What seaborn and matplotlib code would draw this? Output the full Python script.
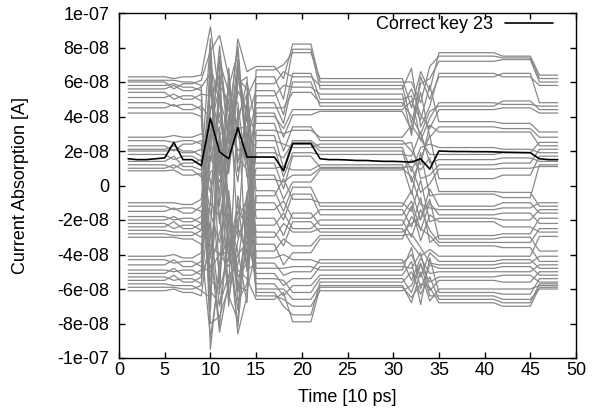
import numpy as np
import pandas as pd
import matplotlib
matplotlib.use("Agg")
import matplotlib.pyplot as plt
import seaborn as sns

# ---------------- data (values in units of 1e-8 A) ----------------
SCALE = 1e-8
time_steps = list(range(1, 49))

# correct key trace (black)
key23 = [1.55, 1.5, 1.5, 1.55, 1.6, 2.5, 1.5, 1.5, 1.15, 3.9,
         1.95, 1.55, 3.35, 1.65, 1.65, 1.65, 1.65, 0.85, 2.42, 2.42,
         2.42, 1.55, 1.5, 1.5, 1.48, 1.45, 1.45, 1.42, 1.4, 1.4,
         1.38, 1.35, 1.55, 0.95, 2.0, 1.98, 1.97, 1.97, 1.96, 1.96,
         1.95, 1.93, 1.92, 1.91, 1.9, 1.55, 1.5, 1.5]

# wrong-key traces (grey): one value per trace for each group of time steps
s_t01_05 = [6.3, 6.1, 6.0, 5.8, 5.6, 5.4, 5.1, 4.8, 4.5, 4.2,
            2.8, 2.6, 2.3, 2.1, 2.0, 1.8, 1.4, 1.2, 1.0, 0.85,
            -1.0, -1.2, -1.5, -1.8, -2.0, -2.2, -2.4, -2.6, -2.8, -3.0,
            -4.1, -4.3, -4.6, -4.9, -5.1, -5.3, -5.5, -5.7, -5.9, -6.1]
s_t06 = [6.2, 6.1, 5.6, 5.9, 5.8, 5.0, 5.3, 4.6, 4.7, 4.2,
         2.9, 2.5, 2.0, 2.3, 2.1, 1.5, 1.7, 1.0, 1.2, 0.9,
         -1.0, -1.4, -1.3, -2.0, -1.8, -2.5, -2.1, -2.7, -2.9, -3.0,
         -4.0, -4.5, -4.3, -5.0, -4.8, -5.5, -5.2, -5.8, -5.9, -6.0]
s_t07_08 = [6.3, 6.0, 5.9, 5.7, 5.5, 5.2, 5.0, 4.7, 4.4, 4.2,
            2.8, 2.6, 2.4, 2.0, 1.9, 1.7, 1.1, 1.3, 0.9, 0.6,
            -1.1, -1.3, -1.6, -1.9, -2.1, -2.3, -2.5, -2.7, -2.9, -3.1,
            -4.2, -4.4, -4.7, -4.9, -5.2, -5.4, -5.6, -5.8, -6.0, -6.2]
s_t09 = [6.4, 5.8, 6.1, 5.5, 5.7, 4.9, 5.3, 4.4, 4.6, 4.0,
         3.0, 2.4, 2.6, 1.7, 2.1, 1.4, 0.9, 1.5, 0.5, 0.7,
         -0.8, -1.5, -1.2, -2.2, -1.8, -2.6, -2.2, -3.0, -2.6, -3.4,
         -3.9, -4.7, -4.4, -5.2, -4.9, -5.7, -5.3, -6.1, -5.8, -6.4]
s_t10 = [9.2, -9.5, 7.8, -8.0, 6.5, -6.8, 5.2, -5.5, 3.9, -4.2,
         2.6, -2.9, 1.4, -1.6, 0.3, -0.4, 8.5, -7.3, 6.0, -6.1,
         4.6, -4.8, 3.2, -3.5, 2.0, -2.2, 0.8, -1.0, 7.0, -8.8,
         5.6, -5.0, 4.3, -3.8, 1.7, -0.9, 8.0, -6.5, 3.0, -2.5]
s_t11 = [5.0, -4.5, 8.7, -7.6, -2.0, 3.1, 6.4, -6.0, -0.5, 1.8,
         7.5, -8.2, 4.2, -3.3, -5.4, 2.5, -1.2, 6.9, 0.6, -6.9,
         3.7, -2.7, 5.8, -4.0, 8.1, -7.0, 1.1, -1.8, 4.8, -5.1,
         2.9, -3.9, 7.2, -8.5, 0.2, 6.1, -6.3, 3.4, -2.2, 5.3]
s_t12 = [3.2, -2.8, 6.3, -5.9, 1.5, -1.2, 4.4, -4.1, 5.7, -6.4,
         2.4, -2.0, 0.7, -0.3, 6.8, -7.0, 3.8, -3.5, 5.0, -5.2,
         1.9, -1.6, 4.9, -4.7, 2.7, -3.1, 6.0, -6.6, 0.9, -0.8,
         3.5, -3.9, 5.4, -5.6, 2.1, -2.3, 4.1, -4.4, 1.2, -1.0]
s_t13 = [8.5, -8.6, -3.0, 4.5, 6.9, -6.2, 2.0, -1.5, 7.7, -7.8,
         3.6, -3.8, 5.5, -5.3, 0.8, -0.6, 8.1, -7.2, 4.8, -4.6,
         6.2, -6.7, 1.3, -2.4, 7.3, -8.2, 2.9, -3.2, 5.9, -5.8,
         0.2, -1.0, 3.3, -4.0, 6.6, -6.0, 1.7, -2.0, 4.0, -4.9]
s_t14 = [6.6, -6.4, 5.1, -5.0, 3.8, -3.6, 2.5, -2.3, 1.2, -1.0,
         6.0, -6.8, 4.4, -4.5, 3.0, -2.9, 1.8, -1.6, 0.5, -0.4,
         5.6, -5.7, 4.0, -4.0, 2.7, -2.6, 1.4, -1.3, 6.3, -6.1,
         4.8, -4.9, 3.4, -3.3, 2.2, -2.1, 0.9, -0.8, 5.3, -5.4]
s_t15_17 = [6.9, 6.7, 6.3, 5.9, 5.5, 5.2, 4.8, 4.5, 4.2, 4.0,
            3.6, 3.2, 2.9, 2.6, 2.2, 1.9, 1.3, 1.0, 0.6, 0.35,
            -0.3, -0.6, -1.0, -1.4, -1.9, -2.3, -2.7, -3.0, -3.4, -3.8,
            -4.2, -4.5, -4.8, -5.1, -5.4, -5.7, -6.0, -6.2, -6.4, -6.6]
s_t18 = [6.2, 7.0, 5.0, 6.6, 4.1, 5.8, 3.6, 4.5, 2.8, 3.3,
         2.0, 3.0, 1.0, 2.4, 0.5, 1.6, -0.2, 1.1, -0.8, 0.2,
         -1.5, 0.4, -2.0, -0.9, -2.9, -1.6, -3.5, -2.2, -4.6, -3.1,
         -4.0, -5.2, -4.8, -5.8, -5.5, -6.4, -6.0, -7.0, -6.6, -6.2]
s_t19_21 = [8.2, 7.7, 7.9, 6.3, 6.5, 5.7, 6.0, 5.4, 4.1, 4.4,
            3.4, 3.2, 2.6, 2.2, 1.9, 2.5, 1.7, 0.9, 0.2, 0.6,
            -0.1, -0.8, -0.5, -1.9, -1.6, -2.5, -2.1, -2.7, -3.9, -3.5,
            -4.3, -5.0, -4.7, -5.4, -6.2, -5.8, -6.6, -7.5, -7.0, -7.9]
s_t22_31 = [6.0, 6.2, 5.6, 5.8, 5.0, 5.3, 4.6, 4.8, 4.3, 4.4,
            2.6, 2.8, 2.2, 2.4, 1.8, 2.0, 1.05, 1.2, 0.9, 1.0,
            -1.2, -1.0, -1.7, -1.4, -2.3, -2.0, -2.7, -2.5, -3.1, -2.9,
            -4.5, -4.3, -4.9, -4.7, -5.4, -5.2, -5.8, -5.6, -6.1, -5.9]
s_t32 = [6.0, 4.5, 6.8, 3.6, 5.2, 2.9, 5.6, 4.0, 3.2, 4.9,
         2.0, 3.5, 0.8, 2.5, 1.7, 0.2, 1.1, -0.5, 1.5, 0.5,
         -0.3, -1.5, -0.9, -2.4, -1.2, -3.0, -2.2, -3.4, -1.8, -2.8,
         -4.0, -5.5, -3.6, -4.8, -6.2, -4.4, -6.8, -5.0, -5.8, -6.5]
s_t33 = [4.8, 6.6, 3.4, 5.9, 2.6, 6.3, 4.1, 3.0, 5.4, 3.8,
         1.2, 2.7, 2.2, 0.4, 3.1, 1.55, -0.4, 1.9, 0.9, -1.1,
         -2.0, 0.3, -2.6, -0.7, -3.2, -1.4, -1.9, -4.1, -2.5, -3.6,
         -5.3, -4.2, -6.0, -3.9, -4.6, -6.9, -5.0, -6.3, -4.5, -5.7]
s_t34 = [6.9, 5.5, 4.6, 6.2, 3.9, 5.0, 3.3, 4.3, 2.8, 5.8,
         3.5, 1.8, 2.4, 0.6, 1.3, 2.9, 0.1, -0.6, 1.6, -1.3,
         -0.2, -2.1, -1.0, -3.3, -1.7, -2.6, -0.8, -3.7, -2.9, -4.5,
         -3.9, -5.1, -4.6, -6.1, -5.6, -4.2, -6.7, -5.3, -6.4, -5.9]
s_t35_41 = [7.5, 7.7, 6.5, 7.2, 4.8, 6.3, 4.4, 4.6, 3.4, 3.7,
            3.1, 1.8, 2.2, 1.2, 1.5, 0.4, 0.95, -0.5, -0.35, -1.4,
            -1.2, -1.9, -1.7, -2.9, -2.1, -3.3, -3.1, -4.1, -3.5, -4.6,
            -4.4, -5.0, -4.8, -5.5, -5.3, -6.2, -6.0, -6.6, -6.4, -6.8]
s_t42_45 = [7.4, 7.5, 6.3, 7.3, 4.7, 6.5, 4.5, 4.9, 3.3, 3.6,
            3.1, 1.9, 2.1, 1.3, 1.6, 0.6, 1.0, -0.7, -0.4, -1.3,
            -1.0, -2.0, -1.6, -2.8, -2.4, -3.3, -3.0, -4.1, -3.6, -4.5,
            -4.3, -5.0, -4.7, -5.6, -5.2, -6.3, -6.0, -6.8, -6.6, -7.0]
s_t46_48 = [6.2, 6.4, 5.8, 6.0, 4.6, 4.8, 4.2, 4.4, 2.8, 3.1,
            2.3, 2.5, 1.9, 2.1, 1.4, 1.7, 1.1, 1.2, -1.2, -1.0,
            -1.6, -1.4, -2.2, -1.9, -2.7, -2.5, -3.8, -2.95, -4.4, -4.1,
            -4.8, -4.6, -5.2, -5.0, -5.6, -5.4, -5.8, -5.7, -6.0, -5.9]

# which time steps each group of values covers
groups = [
    ((1, 5), s_t01_05), ((6, 6), s_t06), ((7, 8), s_t07_08), ((9, 9), s_t09),
    ((10, 10), s_t10), ((11, 11), s_t11), ((12, 12), s_t12), ((13, 13), s_t13),
    ((14, 14), s_t14), ((15, 17), s_t15_17), ((18, 18), s_t18),
    ((19, 21), s_t19_21), ((22, 31), s_t22_31), ((32, 32), s_t32),
    ((33, 33), s_t33), ((34, 34), s_t34), ((35, 41), s_t35_41),
    ((42, 45), s_t42_45), ((46, 48), s_t46_48),
]

xticks = [0, 5, 10, 15, 20, 25, 30, 35, 40, 45, 50]
yticks = [-1e-7, -8e-8, -6e-8, -4e-8, -2e-8, 0, 2e-8, 4e-8, 6e-8, 8e-8, 1e-7]
ytick_labels = ["-1e-07", "-8e-08", "-6e-08", "-4e-08", "-2e-08", "0",
                "2e-08", "4e-08", "6e-08", "8e-08", "1e-07"]

# ---------------- build long table ----------------
rows = []
for (t0, t1), vals in groups:
    for t in range(t0, t1 + 1):
        for i, v in enumerate(vals):
            rows.append((i, t, v * SCALE))
grey_df = pd.DataFrame(rows, columns=["trace", "time", "current"]).sort_values(["trace", "time"])
key_df = pd.DataFrame({"time": time_steps, "current": np.array(key23) * SCALE})

# ---------------- plot ----------------
sns.set_style("ticks")
plt.rcParams["font.family"] = ["Liberation Sans", "DejaVu Sans"]
plt.rcParams["text.color"] = "black"
plt.rcParams["axes.labelcolor"] = "black"

fig = plt.figure(figsize=(5.97, 4.18), dpi=100)
ax = fig.add_axes([119 / 597, 1 - 358 / 418, 457 / 597, 345 / 418])

sns.lineplot(data=grey_df, x="time", y="current", units="trace", estimator=None,
             color="#888888", linewidth=0.9, legend=False, ax=ax, sort=False)
sns.lineplot(data=key_df, x="time", y="current", color="black", linewidth=1.2,
             label="Correct key 23", ax=ax)

ax.set_xlim(0, 50)
ax.set_ylim(-1e-7, 1e-7)
ax.set_xticks(xticks)
ax.set_xticklabels([str(v) for v in xticks])
ax.set_yticks(yticks)
ax.set_yticklabels(ytick_labels)
ax.tick_params(direction="in", length=4, width=1, top=True, right=True,
               labelsize=13, colors="black")
ax.tick_params(axis="x", pad=3)
ax.tick_params(axis="y", pad=7)
for s in ax.spines.values():
    s.set_linewidth(1.0)
    s.set_color("black")

ax.set_xlabel("Time [10 ps]", fontsize=13, color="black")
ax.set_ylabel("Current Absorption [A]", fontsize=13, color="black")
ax.xaxis.set_label_coords(0.5, -0.09)
ax.xaxis.label.set_va("top")
ax.yaxis.set_label_coords(-0.197, 0.5)

leg = ax.legend(loc="upper right", bbox_to_anchor=((553 - 119) / 457, 0.99),
                frameon=False, markerfirst=False, fontsize=13,
                handlelength=2.67, handletextpad=0.67, borderpad=0,
                borderaxespad=0)
for txt in leg.get_texts():
    txt.set_color("black")

fig.savefig("out.png", dpi=100)
